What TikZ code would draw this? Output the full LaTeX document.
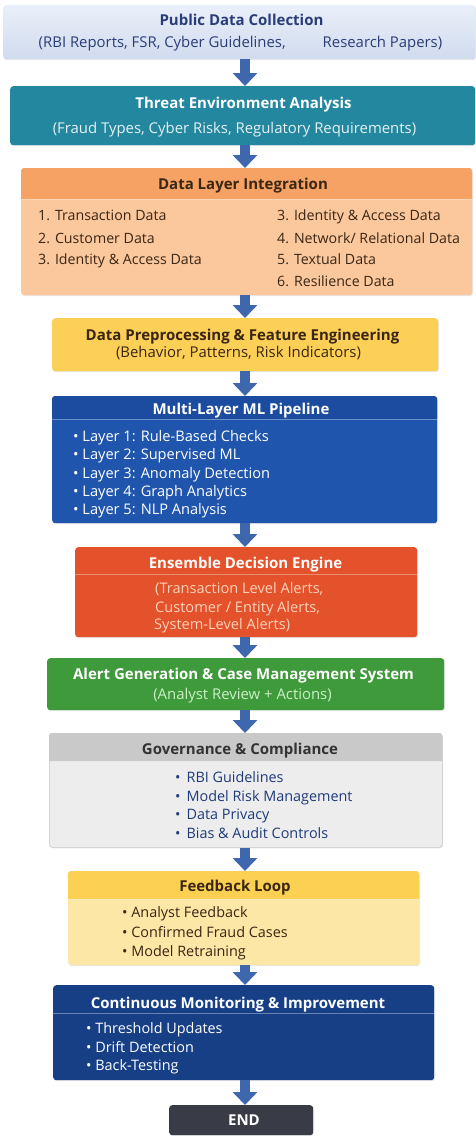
\documentclass[tikz,border=0pt]{standalone}
\usepackage{fontspec}
\setmainfont{Open Sans}
\usetikzlibrary{arrows.meta,shadows}
\definecolor{arrowc}{HTML}{3E67AD}
\definecolor{c1t}{HTML}{EAF0FA}
\definecolor{c1b}{HTML}{D0DBEE}
\definecolor{c1txt}{HTML}{2B3D78}
\definecolor{c2}{HTML}{23879F}
\definecolor{c2sub}{HTML}{E3F1F5}
\definecolor{c3h}{HTML}{F5A264}
\definecolor{c3b}{HTML}{FBC89E}
\definecolor{brown}{HTML}{3A2614}
\definecolor{c4}{HTML}{FCCF57}
\definecolor{c5}{HTML}{1F55AD}
\definecolor{c5h}{HTML}{1C4C9F}
\definecolor{c6}{HTML}{E3522A}
\definecolor{c6sub}{HTML}{FFD3BA}
\definecolor{c7}{HTML}{3E9A3B}
\definecolor{c7sub}{HTML}{CBEFC5}
\definecolor{c8h}{HTML}{C9C9C9}
\definecolor{c8b}{HTML}{EDEDED}
\definecolor{c8txt}{HTML}{1F3B7A}
\definecolor{c9h}{HTML}{FCD052}
\definecolor{c9b}{HTML}{FDE7A6}
\definecolor{c10}{HTML}{173F86}
\definecolor{cend}{HTML}{393C47}
\begin{document}
\begin{tikzpicture}[x=1pt,y=-1pt,
  boxnode/.style={anchor=north west, inner sep=0, rounded corners=3pt,
    drop shadow={opacity=0.18, shadow xshift=0.8pt, shadow yshift=-1pt}},
  ttl/.style={anchor=base, inner sep=0, font=\bfseries\fontsize{15}{17}\selectfont},
  sub/.style={anchor=base, inner sep=0, font=\fontsize{14.9}{17}\selectfont},
  lst/.style={anchor=base west, inner sep=0, font=\fontsize{14.2}{16}\selectfont},
  blt/.style={anchor=base west, inner sep=0, font=\fontsize{14.4}{16}\selectfont},
  mlt/.style={anchor=base west, inner sep=0, font=\fontsize{14.6}{16}\selectfont},
  flowarrow/.style={draw=arrowc, line width=10pt, -{Triangle[width=24pt,length=13pt]}},
  sep/.style={draw=white, opacity=0.35, line width=0.8pt}
]
\useasboundingbox (0,0) rectangle (475,1136);
\fill[white] (0,0) rectangle (475,1136);
\coordinate (ax) at (245,0);

% ---- Box 1
\node[boxnode, top color=c1t, bottom color=c1b, minimum width=472pt, minimum height=54pt] (b1) at (3,5) {};
\node[ttl, text=c1txt] (t1) at (241.5,25) {Public Data Collection};
\node[sub, text=c1txt] (s1) at (240.5,47) {(RBI Reports, FSR, Cyber Guidelines,\hspace{37pt}Research Papers)};

% ---- Box 2
\node[boxnode, fill=c2, minimum width=465pt, minimum height=59pt] (b2) at (10,86) {};
\node[ttl, text=white] (t2) at (243.5,108) {Threat Environment Analysis};
\node[sub, text=c2sub] (s2) at (234.5,133) {(Fraud Types, Cyber Risks, Regulatory Requirements)};

% ---- Box 3
\node[boxnode, fill=c3b, minimum width=451pt, minimum height=127pt] (b3) at (21,168) {};
\fill[c3h] (21,199) [rounded corners=3pt] -- (21,168) -- (472,168) -- (472,185) [sharp corners] -- (472,199) -- cycle;
\draw[sep] (21,199) -- (472,199);
\node[ttl, text=brown] (t3) at (243,189) {Data Layer Integration};
\node[lst, text=brown] (l31) at (38,220) {1. Transaction Data};
\node[lst, text=brown] (l32) at (38,243) {2. Customer Data};
\node[lst, text=brown] (l33) at (38,264) {3. Identity \& Access Data};
\node[lst, text=brown] (r31) at (277,220) {3. Identity \& Access Data};
\node[lst, text=brown] (r32) at (277,243) {4. Network/ Relational Data};
\node[lst, text=brown] (r33) at (277,264) {5. Textual Data};
\node[lst, text=brown] (r34) at (277,286) {6. Resilience Data};

% ---- Box 4
\node[boxnode, fill=c4, minimum width=386pt, minimum height=53pt] (b4) at (52,318) {};
\node[ttl, text=brown] (t4) at (242.5,340) {Data Preprocessing \& Feature Engineering};
\node[sub, text=brown] (s4) at (238.5,357) {(Behavior, Patterns, Risk Indicators)};

% ---- Box 5
\node[boxnode, fill=c5, minimum width=385pt, minimum height=127pt] (b5) at (52,396) {};
\fill[c5h] (52,419) [rounded corners=3pt] -- (52,396) -- (437,396) -- (437,408) [sharp corners] -- (437,419) -- cycle;
\draw[sep] (52,419) -- (437,419);
\node[ttl, text=white] (t5) at (241,414) {Multi-Layer ML Pipeline};
\node[mlt, text=white] (m1) at (73,441) {• Layer 1: Rule-Based Checks};
\node[mlt, text=white] (m2) at (73,459) {• Layer 2: Supervised ML};
\node[mlt, text=white] (m3) at (73,478) {• Layer 3: Anomaly Detection};
\node[mlt, text=white] (m4) at (73,496) {• Layer 4: Graph Analytics};
\node[mlt, text=white] (m5) at (73,514) {• Layer 5: NLP Analysis};

% ---- Box 6
\node[boxnode, fill=c6, minimum width=342pt, minimum height=90pt] (b6) at (75,547) {};
\draw[sep] (75,574) -- (417,574);
\node[ttl, text=white] (t6) at (245.5,568) {Ensemble Decision Engine};
\node[mlt, text=c6sub] (e1) at (155,593) {(Transaction Level Alerts,};
\node[mlt, text=c6sub] (e2) at (155,612) {Customer / Entity Alerts,};
\node[mlt, text=c6sub] (e3) at (154,629) {System-Level Alerts)};

% ---- Box 7
\node[boxnode, fill=c7, minimum width=397pt, minimum height=52pt] (b7) at (47,658) {};
\node[ttl, text=white] (t7) at (243.5,679) {Alert Generation \& Case Management System};
\node[sub, text=c7sub] (s7) at (242.5,699) {(Analyst Review + Actions)};

% ---- Box 8
\node[boxnode, fill=c8b, draw=c8h, line width=0.6pt, minimum width=393pt, minimum height=114pt] (b8) at (49,733) {};
\fill[c8h] (49,761) [rounded corners=3pt] -- (49,733) -- (442,733) -- (442,748) [sharp corners] -- (442,761) -- cycle;
\node[ttl, text=black!80] (t8) at (240,754) {Governance \& Compliance};
\node[blt, text=c8txt] (g1) at (175,782) {•\hspace{6pt}RBI Guidelines};
\node[blt, text=c8txt] (g2) at (175,801) {•\hspace{6pt}Model Risk Management};
\node[blt, text=c8txt] (g3) at (175,819) {•\hspace{6pt}Data Privacy};
\node[blt, text=c8txt] (g4) at (175,838) {•\hspace{6pt}Bias \& Audit Controls};

% ---- Box 9
\node[boxnode, fill=c9b, minimum width=351pt, minimum height=94pt] (b9) at (68,871) {};
\fill[c9h] (68,899) [rounded corners=3pt] -- (68,871) -- (419,871) -- (419,885) [sharp corners] -- (419,899) -- cycle;
\draw[sep] (68,899) -- (419,899);
\node[ttl, text=brown] (t9) at (235,891) {Feedback Loop};
\node[blt, text=brown] (f1) at (122,917) {• Analyst Feedback};
\node[blt, text=brown] (f2) at (122,937) {• Confirmed Fraud Cases};
\node[blt, text=brown] (f3) at (122,956) {• Model Retraining};

% ---- Box 10
\node[boxnode, fill=c10, minimum width=381pt, minimum height=95pt] (b10) at (53,985) {};
\draw[sep] (53,1013) -- (434,1013);
\node[ttl, text=white] (t10) at (238,1008) {Continuous Monitoring \& Improvement};
\node[blt, text=white] (c1) at (86,1033) {• Threshold Updates};
\node[blt, text=white] (c2) at (86,1052) {• Drift Detection};
\node[blt, text=white] (c3) at (86,1070) {• Back-Testing};

% ---- END
\node[boxnode, fill=cend, minimum width=144pt, minimum height=30pt] (b11) at (169,1105) {};
\node[ttl, text=white] (t11) at (244,1125) {END};

% ---- arrows
\draw[flowarrow] (b1.south -| ax) -- (b2.north -| ax);
\draw[flowarrow] (b2.south -| ax) -- (b3.north -| ax);
\draw[flowarrow] (b3.south -| ax) -- (b4.north -| ax);
\draw[flowarrow] (b4.south -| ax) -- (b5.north -| ax);
\draw[flowarrow] (b5.south -| ax) -- (b6.north -| ax);
\draw[flowarrow] (b6.south -| ax) -- (b7.north -| ax);
\draw[flowarrow] (b7.south -| ax) -- (b8.north -| ax);
\draw[flowarrow] (b8.south -| ax) -- (b9.north -| ax);
\draw[flowarrow] (b9.south -| ax) -- (b10.north -| ax);
\draw[flowarrow] (b10.south -| ax) -- (b11.north -| ax);
\end{tikzpicture}
\end{document}
